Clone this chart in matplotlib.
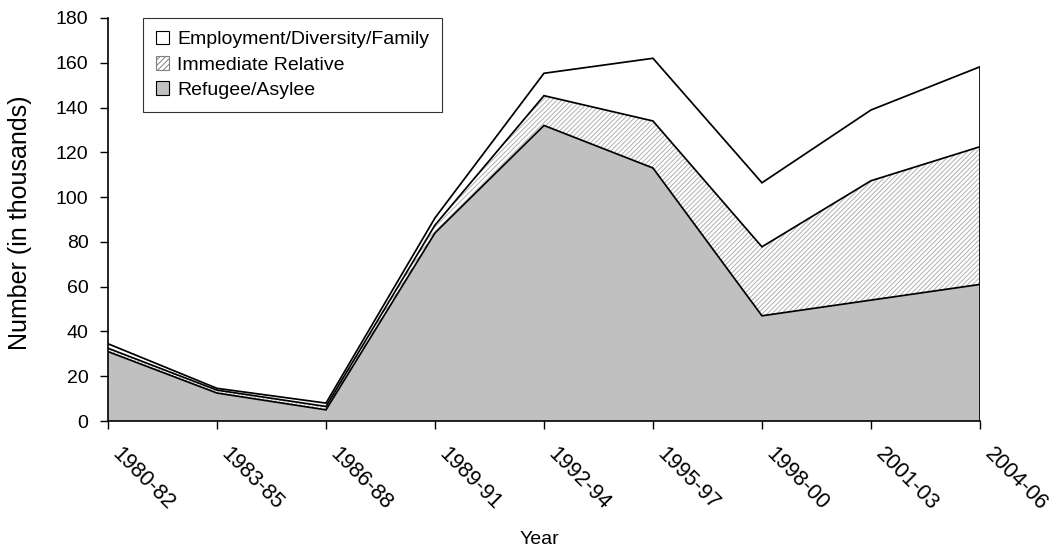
import matplotlib
matplotlib.use("Agg")
import matplotlib.pyplot as plt
import matplotlib.transforms as mtransforms
from matplotlib.patches import Patch
import numpy as np

plt.rcParams['font.family'] = ['Liberation Sans', 'DejaVu Sans']
plt.rcParams['hatch.linewidth'] = 0.7

periods = ["1980-82", "1983-85", "1986-88", "1989-91", "1992-94",
           "1995-97", "1998-00", "2001-03", "2004-06"]
refugee_asylee = [31, 12.5, 5, 84, 132, 113, 47, 54, 61]
immediate_relative = [1.5, 1.3, 1.5, 3.5, 13.3, 21, 30.8, 53.3, 61.5]
employment_diversity_family = [2, 0.8, 1.5, 3.2, 10, 28, 28.6, 31.6, 35.7]

fig = plt.figure(figsize=(10.64, 5.55), dpi=100)
ax = fig.add_axes([0.1015, 0.2414, 0.8195, 0.7262])

x = np.arange(len(periods))
polys = ax.stackplot(x, refugee_asylee, immediate_relative, employment_diversity_family,
                     colors=['#c0c0c0', 'white', 'white'])
for p in polys:
    p.set_linewidth(0)
polys[1].set_hatch('///////')
polys[1].set_edgecolor('#b0b0b0')

# outline of each stacked layer
cum1 = np.array(refugee_asylee, dtype=float)
cum2 = cum1 + np.array(immediate_relative)
cum3 = cum2 + np.array(employment_diversity_family)
for c in (cum1, cum2, cum3):
    ax.plot(x, c, color='black', lw=1.25, solid_joinstyle='miter')
ax.plot([x[-1], x[-1]], [0, cum3[-1]], color='black', lw=1.25)

ax.set_xlim(0, len(periods) - 1)
ax.set_ylim(0, 180)
ax.set_yticks(range(0, 181, 20))
ax.set_xticks(x)
ax.set_xticklabels(periods, rotation=-45, ha='left', va='top', fontsize=15.5)
shift = mtransforms.ScaledTranslation(0.10, 0, fig.dpi_scale_trans)
for lbl in ax.get_xticklabels():
    lbl.set_transform(lbl.get_transform() + shift)
ax.tick_params(axis='y', labelsize=14, direction='out', length=6, width=1, pad=8)
ax.tick_params(axis='x', direction='out', length=6, width=1, pad=10)
for s in ('top', 'right'):
    ax.spines[s].set_visible(False)
for s in ('left', 'bottom'):
    ax.spines[s].set_linewidth(1.2)

fig.text(20 / 1064, 1 - 223 / 555, "Number (in thousands)", rotation=90,
         ha='center', va='center', fontsize=18)
ax.set_xlabel("Year", fontsize=14)
ax.xaxis.set_label_coords(0.495, -0.272)

handles = [
    Patch(facecolor='white', edgecolor='black', lw=0.8, label='Employment/Diversity/Family'),
    Patch(facecolor='white', edgecolor='#808080', hatch='//////', lw=0.8, label='Immediate Relative'),
    Patch(facecolor='#c0c0c0', edgecolor='black', lw=0.8, label='Refugee/Asylee'),
]
leg = ax.legend(handles=handles, loc='upper left', bbox_to_anchor=(0.04, 1.0),
                fontsize=14, frameon=True, fancybox=False, handlelength=0.7,
                handleheight=0.7, handletextpad=0.4, borderpad=0.65, labelspacing=0.4,
                borderaxespad=0.0)
leg.get_frame().set_edgecolor('black')
leg.get_frame().set_linewidth(0.8)

fig.savefig("out.png", dpi=100)
